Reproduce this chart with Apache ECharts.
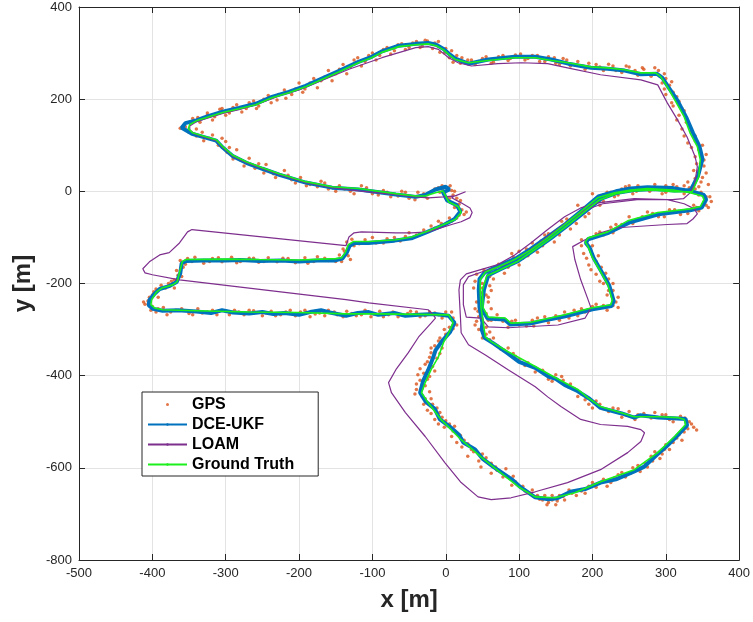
<!DOCTYPE html>
<html>
<head>
<meta charset="utf-8">
<script src="https://cdn.jsdelivr.net/npm/echarts@6/dist/echarts.min.js"></script>
<style>
  html, body { margin: 0; padding: 0; background: #fff; }
  #chart { width: 753px; height: 622px; }
</style>
</head>
<body>
<div id="chart"></div>
<script>
// axis ticks
var xTicks = [-500, -400, -300, -200, -100, 0, 100, 200, 300, 400];
var yTicks = [-800, -600, -400, -200, 0, 200, 400];

// ground truth trajectory [x, y] in metres
var groundTruth = [
  [-3,-1],[4,-23],[17,-33],[21,-46],[13,-61],[-3,-72],[-24,-86],[-47,-99],[-68,-105],[-105,-109],[-126,-109],[-133,-116],
  [-137,-133],[-142,-144],[-150,-146],[-200,-149],[-254,-148],[-300,-147],[-354,-148],[-359,-152],[-363,-176],[-366,-196],
  [-372,-203],[-386,-209],[-394,-218],[-401,-235],[-402,-246],[-397,-253],[-386,-257],[-340,-259],[-268,-262],[-200,-263],
  [-136,-266],[-92,-266],[-37,-267],[4,-268],[10,-285],[4,-307],[-3,-328],[-10,-359],[-20,-387],[-28,-415],[-33,-437],
  [-24,-459],[-6,-496],[21,-539],[48,-576],[75,-611],[99,-641],[122,-663],[149,-665],[176,-654],[211,-630],[257,-604],
  [289,-567],[312,-532],[327,-506],[325,-495],[316,-491],[293,-489],[257,-489],[238,-480],[211,-467],[194,-448],[180,-430],
  [149,-404],[122,-380],[85,-348],[62,-326],[54,-316],[51,-285],[48,-251],[47,-214],[47,-192],[54,-175],[71,-164],[94,-148],
  [116,-127],[139,-101],[162,-72],[184,-44],[207,-14],[230,-3],[252,3],[275,6],[310,3],[333,-3],[350,-10],[352,-18],[347,-33],
  [333,-38],[289,-46],[248,-64],[221,-88],[194,-101],[190,-110],[194,-120],[200,-144],[211,-174],[221,-203],[227,-236],
  [225,-246],[198,-253],[162,-268],[116,-284],[89,-286],[81,-275],[58,-273],[51,-253],[50,-214],[56,-183],[74,-170],[97,-153],
  [119,-129],[142,-103],[165,-75],[187,-47],[210,-18],[232,-5],[255,1],[282,3],[311,-1],[336,-1],[345,32],[347,69],[343,97],
  [333,127],[325,162],[312,199],[302,227],[293,249],[286,257],[266,257],[244,264],[221,268],[198,270],[167,279],[144,284],
  [122,290],[94,290],[58,284],[31,279],[13,286],[4,297],[-3,307],[-13,316],[-24,320],[-41,318],[-64,314],[-88,301],[-101,290],
  [-119,279],[-146,259],[-191,227],[-214,214],[-237,203],[-259,188],[-282,179],[-304,171],[-326,160],[-340,153],[-349,145],
  [-351,136],[-345,127],[-326,118],[-313,112],[-304,97],[-291,79],[-272,64],[-250,51],[-227,38],[-191,21],[-155,10],[-119,6],
  [-68,-5],[-41,-10],[-28,-10],[-14,-3],[-3,1]
];

// DCE-UKF estimate
var dceUkf = [
  [-5,2],[2,-20],[15,-30],[20,-44],[12,-60],[-4,-74],[-25,-88],[-47,-102],[-70,-107],[-90,-110],[-105,-112],[-124,-112],
  [-131,-118],[-135,-133],[-141,-146],[-152,-150],[-175,-150],[-200,-152],[-225,-150],[-254,-151],[-280,-149],[-300,-150],
  [-330,-150],[-354,-151],[-360,-156],[-362,-178],[-367,-197],[-376,-205],[-390,-212],[-397,-222],[-404,-236],[-405,-247],
  [-399,-255],[-386,-259],[-365,-258],[-340,-261],[-320,-264],[-305,-258],[-290,-263],[-268,-265],[-250,-262],[-235,-266],
  [-220,-264],[-200,-268],[-185,-262],[-170,-258],[-158,-263],[-136,-270],[-120,-264],[-105,-262],[-92,-268],[-70,-264],
  [-55,-270],[-37,-268],[-15,-266],[4,-270],[12,-285],[6,-305],[-5,-325],[-14,-345],[-17,-360],[-24,-388],[-31,-412],
  [-35,-437],[-27,-457],[-15,-472],[-8,-495],[5,-510],[18,-528],[24,-545],[40,-560],[50,-580],[65,-598],[78,-612],[90,-625],
  [102,-642],[122,-664],[140,-668],[152,-666],[170,-652],[190,-646],[211,-632],[232,-625],[257,-608],[270,-598],[289,-570],
  [300,-555],[314,-533],[329,-508],[327,-494],[316,-493],[290,-491],[265,-486],[257,-491],[240,-482],[211,-470],[196,-450],
  [178,-432],[162,-420],[150,-407],[140,-402],[122,-383],[100,-370],[85,-352],[65,-330],[53,-318],[49,-300],[50,-285],
  [46,-252],[45,-214],[46,-190],[53,-176],[71,-162],[95,-146],[116,-125],[139,-99],[164,-70],[186,-41],[208,-11],[232,0],
  [252,6],[275,9],[310,7],[335,0],[352,-8],[355,-18],[349,-35],[333,-41],[290,-50],[250,-68],[222,-90],[194,-104],[191,-112],
  [196,-122],[202,-146],[213,-176],[223,-205],[229,-238],[226,-249],[200,-256],[163,-271],[135,-280],[115,-287],[88,-289],
  [80,-278],[57,-276],[49,-254],[52,-214],[58,-182],[76,-168],[99,-151],[121,-127],[144,-101],[167,-73],[189,-45],[212,-16],
  [234,-3],[257,3],[284,5],[312,2],[334,3],[338,15],[344,34],[350,70],[346,97],[337,127],[328,160],[316,197],[304,225],
  [295,247],[288,255],[266,254],[244,262],[221,266],[198,268],[167,277],[144,286],[122,292],[94,292],[58,286],[31,277],
  [13,288],[4,299],[-3,309],[-13,318],[-24,322],[-41,320],[-64,316],[-88,303],[-101,292],[-119,281],[-146,261],[-191,229],
  [-214,216],[-237,205],[-259,190],[-282,181],[-304,173],[-326,162],[-340,154],[-355,148],[-360,138],[-346,125],[-326,116],
  [-313,110],[-304,95],[-291,77],[-272,62],[-250,49],[-227,36],[-191,19],[-155,8],[-119,4],[-68,-7],[-41,-12],[-28,-8],
  [-14,4],[0,10],[5,4],[-3,-2]
];

// LOAM odometry
var loam = [
  [27,-1],[12,-10],[8,-14],[21,-25],[33,-36],[36,-46],[33,-57],[21,-66],[8,-72],[-10,-81],[-24,-88],[-47,-90],[-68,-90],
  [-115,-88],[-125,-90],[-132,-99],[-136,-118],[-346,-83],[-352,-88],[-363,-112],[-377,-133],[-390,-138],[-404,-153],
  [-413,-168],[-410,-177],[-400,-181],[-363,-192],[-136,-235],[-105,-242],[-24,-257],[-17,-268],[-14,-275],[-20,-286],
  [-37,-316],[-51,-350],[-68,-387],[-78,-415],[-74,-437],[-55,-480],[-28,-532],[-1,-589],[21,-632],[44,-663],[62,-669],
  [89,-665],[122,-652],[166,-632],[211,-604],[248,-567],[266,-543],[271,-524],[266,-517],[248,-510],[211,-506],[184,-495],
  [157,-467],[139,-446],[122,-424],[85,-387],[54,-355],[31,-333],[21,-307],[20,-273],[18,-214],[20,-192],[28,-179],[71,-159],
  [94,-138],[116,-112],[139,-83],[162,-55],[184,-36],[207,-25],[257,-16],[302,-18],[325,-27],[339,-38],[343,-49],[337,-60],
  [329,-70],[302,-72],[234,-79],[211,-90],[190,-105],[173,-120],[176,-148],[184,-192],[194,-235],[198,-253],[190,-275],
  [153,-290],[85,-296],[58,-294],[48,-275],[28,-273],[24,-246],[24,-203],[31,-185],[51,-174],[78,-161],[101,-142],[123,-118],
  [146,-90],[169,-62],[191,-40],[214,-27],[261,-18],[309,-18],[324,-16],[332,-5],[339,14],[343,53],[340,75],[329,118],
  [316,155],[302,192],[289,231],[266,242],[211,253],[166,268],[139,277],[103,279],[71,277],[35,272],[17,279],[4,290],
  [-10,308],[-24,314],[-41,312],[-87,290],[-132,265],[-200,220],[-223,210],[-237,201],[-259,188],[-282,177],[-304,169],
  [-326,158],[-340,151],[-349,142],[-349,134],[-343,125],[-326,116],[-313,110],[-304,95],[-291,77],[-272,62],[-250,49],
  [-227,36],[-191,19],[-155,8],[-119,1],[-68,-7],[-41,-12],[-24,-14],[-3,-12],[13,-10],[27,-1]
];

// GPS fixes
var gps = [
  [-5,5],[3,8],[8,2],[-8,-2],[10,-8],[5,-15],[18,-28],[22,-40],[25,-50],[15,-58],[8,-65],[-6,-70],[-15,-80],[-30,-84],
  [-40,-95],[-55,-98],[-62,-108],[-80,-103],[-95,-112],[-110,-105],[-118,-114],[-128,-104],[-135,-110],[-140,-125],[-133,-140],
  [-145,-138],[-150,-152],[-165,-145],[-180,-152],[-192,-144],[-205,-155],[-215,-146],[-230,-153],[-242,-144],[-255,-154],
  [-268,-145],[-280,-152],[-292,-143],[-305,-153],[-318,-146],[-330,-156],[-342,-143],[-352,-146],[-362,-150],[-358,-165],
  [-367,-172],[-360,-185],[-370,-192],[-378,-200],[-370,-210],[-388,-204],[-395,-212],[-400,-225],[-392,-230],[-406,-238],
  [-410,-245],[-400,-250],[-395,-262],[-385,-252],[-375,-262],[-360,-255],[-350,-265],[-338,-255],[-325,-262],[-312,-268],
  [-300,-260],[-288,-258],[-275,-268],[-262,-259],[-250,-270],[-238,-260],[-225,-268],[-212,-258],[-198,-262],[-185,-272],
  [-172,-264],[-160,-258],[-148,-268],[-135,-260],[-122,-270],[-110,-258],[-98,-266],[-85,-272],[-72,-262],[-60,-268],
  [-48,-260],[-35,-272],[-22,-262],[-10,-268],[0,-262],[10,-275],[15,-290],[5,-295],[0,-310],[-8,-318],[-15,-335],[-5,-340],
  [-20,-350],[-12,-362],[-25,-370],[-18,-380],[-30,-395],[-22,-402],[-35,-410],[-28,-422],[-40,-430],[-32,-445],[-20,-450],
  [-30,-462],[-12,-470],[-20,-482],[-5,-490],[-10,-505],[5,-505],[10,-520],[20,-530],[15,-545],[30,-548],[38,-565],[50,-570],
  [45,-585],[62,-590],[70,-605],[82,-602],[85,-620],[95,-630],[105,-640],[115,-655],[125,-660],[132,-670],[140,-675],
  [145,-660],[152,-672],[160,-662],[168,-648],[178,-660],[185,-650],[195,-640],[205,-642],[215,-625],[225,-632],[235,-615],
  [245,-620],[255,-600],[265,-608],[272,-590],[282,-585],[285,-565],[295,-570],[300,-550],[310,-545],[318,-528],[322,-540],
  [330,-515],[338,-512],[332,-500],[320,-488],[305,-495],[295,-485],[280,-492],[270,-482],[258,-495],[245,-485],[235,-472],
  [222,-478],[210,-462],[200,-470],[190,-452],[185,-440],[175,-428],[170,-418],[160,-410],[150,-398],[140,-408],[132,-388],
  [122,-392],[112,-372],[100,-365],[92,-352],[80,-345],[70,-335],[60,-322],[55,-310],[45,-300],[55,-295],[42,-282],[55,-265],
  [40,-255],[45,-240],[55,-225],[38,-210],[50,-200],[40,-195],[60,-185],[52,-170],[68,-172],[78,-158],[85,-165],[92,-142],
  [105,-145],[110,-125],[125,-132],[130,-108],[148,-110],[150,-88],[170,-82],[170,-62],[190,-55],[195,-32],[210,-30],[215,-8],
  [230,-12],[240,5],[255,-5],[262,12],[278,0],[290,8],[300,-2],[315,10],[325,-5],[340,5],[348,-2],[355,-12],[362,-22],
  [358,-35],[345,-42],[338,-30],[320,-50],[305,-40],[290,-55],[275,-45],[262,-60],[250,-55],[240,-72],[225,-78],[215,-95],
  [205,-92],[192,-112],[185,-105],[198,-130],[188,-135],[205,-152],[195,-160],[212,-165],[205,-180],[222,-190],[215,-200],
  [228,-215],[220,-225],[232,-240],[235,-252],[220,-258],[205,-245],[190,-262],[175,-258],[168,-275],[150,-270],[140,-285],
  [125,-275],[110,-292],[95,-280],[85,-295],[70,-268],[62,-280],[45,-272],[44,-260],[58,-240],[60,-205],[65,-190],[80,-178],
  [100,-160],[105,-138],[128,-118],[135,-95],[158,-65],[175,-58],[180,-30],[200,-5],[220,-2],[245,10],[270,8],[300,12],
  [325,12],[330,20],[340,28],[350,30],[338,45],[352,55],[342,60],[355,80],[345,90],[340,110],[330,105],[335,130],[322,135],
  [328,150],[318,165],[322,180],[310,185],[315,205],[300,210],[305,230],[295,235],[298,255],[290,262],[280,250],[270,265],
  [262,252],[250,270],[240,258],[228,272],[215,262],[205,275],[190,265],[180,282],[170,272],[160,288],[150,278],[140,292],
  [128,282],[118,295],[108,285],[95,296],[85,284],[72,292],[65,280],[50,288],[40,275],[30,285],[20,278],[15,295],[5,290],
  [0,310],[-8,302],[-15,322],[-25,326],[-32,315],[-40,325],[-50,312],[-60,320],[-70,305],[-80,312],[-90,295],[-100,300],
  [-110,282],[-120,290],[-130,270],[-140,275],[-150,255],[-160,262],[-170,240],[-180,245],[-192,222],[-200,235],[-210,210],
  [-220,220],[-230,198],[-242,208],[-255,185],[-262,196],[-272,180],[-285,188],[-295,170],[-305,180],[-315,162],[-325,170],
  [-335,150],[-345,158],[-355,140],[-362,137],[-350,128],[-340,120],[-330,110],[-318,122],[-310,100],[-300,108],[-298,85],
  [-285,90],[-280,68],[-268,72],[-260,50],[-245,58],[-235,38],[-220,45],[-210,25],[-198,30],[-185,15],[-170,22],[-160,5],
  [-145,12],[-130,0],[-115,12],[-100,-5],[-85,2],[-75,-12],[-60,0],[-50,-15],[-38,-2],[-25,-15],[-15,5],[-5,12],
  [-348,150],[-338,160],[-325,165],[-318,155],[-308,178],[-300,165],[-290,182],[-278,172],[-268,192],[-258,180],[-248,200],
  [-238,192],[-228,210],[-218,202],[-205,222],[-195,215],[-185,235],[-175,225],[-165,248],[-155,240],[-145,265],[-135,255],
  [-125,285],[-115,272],[-105,295],[-95,285],[-85,308],[-75,298],[-65,318],[-55,308],[-45,322],[-35,312],[-28,328],[-18,310],
  [-10,325],[-2,300],[8,305],[10,280],[22,290],[35,285],[45,282],[55,292],[62,278],[78,295],[88,288],[102,298],[112,288],
  [125,295],[135,282],[148,290],[155,275],[165,285],[175,275],[185,272],[195,278],[210,270],[222,276],[232,262],[246,272],
  [258,262],[268,268],[276,255],[285,268],[292,250],[300,245],[308,238],[298,222],[310,215],[318,195],[308,192],[325,175],
  [315,155],[332,145],[325,120],[340,120],[335,95],[350,100],[340,75],[352,68],[345,45],[355,40],[348,20],[358,15],[345,10],
  [2,5],[-2,-5],[6,12],[12,0],[-10,8],[15,-15],[20,-20],[12,-35],[28,-45],[18,-52],[5,-58],[-10,-65],[-20,-75],[-35,-92],
  [-50,-90],[-70,-100],[-85,-112],[-100,-100],[-125,-118],[-138,-130],[-130,-148],[-142,-152],
  [-340,135],[-332,128],[-322,115],[-305,115],[-295,95],[-290,70],[-275,55],[-255,60],[-248,40],[-232,30],[-215,35],[-205,18],
  [-190,12],[-175,10],[-165,18],[-150,0],[-138,5],[-125,-5],[-108,8],[-92,-8],[-80,-2],[-65,-10],[-55,-2],[-42,-18],[-30,-5],
  [-160,-150],[-175,-142],[-188,-156],[-222,-145],[-248,-152],[-262,-145],[-285,-155],[-310,-144],[-322,-152],[-346,-152],
  [-355,-158],[-365,-182],[-374,-195],[-382,-210],[-398,-218],[-404,-230],[-412,-240],[-402,-258],
  [-392,-255],[-380,-268],[-368,-258],[-345,-268],[-332,-264],[-318,-258],[-295,-268],[-282,-262],[-268,-258],[-245,-264],
  [-232,-270],[-218,-262],[-205,-270],[-192,-258],[-178,-266],[-165,-270],[-152,-262],[-140,-272],[-128,-265],[-115,-268],
  [-102,-272],[-90,-260],[-78,-268],[-65,-272],[-52,-265],[-40,-262],[-28,-270],[-15,-264],[-5,-275],[8,-262],
  [10,-298],[-2,-300],[-10,-325],[-20,-340],[-8,-352],[-22,-360],[-28,-375],[-35,-385],[-15,-390],[-38,-398],[-25,-408],
  [-40,-418],[-32,-428],[-22,-435],[-42,-440],[-28,-450],[-18,-462],[-25,-475],[-8,-480],[-15,-495],[0,-498],[-2,-512],
  [12,-510],[8,-532],[25,-540],[22,-555],[35,-560],[30,-575],[55,-578],[48,-598],[68,-598],[62,-612],[78,-620],[92,-618],
  [90,-638],[108,-650],[118,-648],[128,-668],[135,-660],[138,-680],[145,-670],[150,-680],[155,-660],[162,-670],[172,-655],
  [190,-655],[200,-632],[220,-640],[230,-622],[240,-610],[252,-612],[262,-595],[275,-598],[280,-575],[292,-580],[298,-560],
  [305,-560],[315,-535],[325,-522],[335,-505],[342,-518],[326,-492],[310,-500],[300,-485],[285,-480],[262,-485],[250,-478],
  [240,-490],[228,-470],[215,-472],[205,-455],[195,-462],[180,-445],[168,-425],[158,-402],[145,-412],[135,-395],[118,-380],
  [108,-378],[95,-358],[85,-340],[75,-342],[65,-318],[50,-318],[60,-305],[40,-290],[58,-280],[48,-268],[42,-240],[58,-230],
  [50,-210],[42,-180],[60,-175],
  [72,-158],[88,-150],[90,-135],[100,-130],[112,-140],[118,-112],[132,-118],[140,-92],[155,-95],[158,-78],[165,-60],[178,-70],
  [185,-48],[195,-48],[200,-25],[215,-22],[225,-2],[235,-8],[250,12],[260,0],[285,15],[295,-5],[310,15],[320,2],[332,8],
  [345,-8],[352,-25],[360,-12],[355,-30],[342,-35],[330,-48],[312,-40],[298,-55],[282,-48],[268,-55],[255,-70],[232,-72],
  [228,-90],[210,-88],[200,-100],[185,-118],[200,-118],[192,-145],[208,-140],[198,-170],[218,-178],[210,-195],[228,-200],
  [222,-215],[235,-230],[228,-248],[215,-248],[200,-250],[185,-255],[180,-270],[162,-262],[155,-280],[135,-272],[118,-280],
  [120,-292],[100,-290],[90,-282],[78,-282],[68,-278],[52,-262],[62,-255],[48,-220],[62,-215],[45,-205]
];

var axisColor = '#262626';
var font = 'Liberation Sans, Arial, Helvetica, sans-serif';

var chart = echarts.init(document.getElementById('chart'));

// top / right box axes, ticks only
function frameAxis(pos, ticks) {
  return {
    type: 'value',
    position: pos,
    min: ticks[0],
    max: ticks[ticks.length - 1],
    interval: ticks[1] - ticks[0],
    axisLine: { show: true, onZero: false, lineStyle: { color: axisColor, width: 1 } },
    axisTick: { show: true, inside: true, length: 6, lineStyle: { color: axisColor } },
    axisLabel: { show: false },
    splitLine: { show: false }
  };
}

var option = {
  animation: false,
  backgroundColor: '#fff',
  grid: { left: 79, right: 11, top: 7, bottom: 62, containLabel: false },
  legend: {
    orient: 'vertical',
    left: 142,
    top: 392,
    data: ['GPS', 'DCE-UKF', 'LOAM', 'Ground Truth'],
    itemWidth: 39,
    itemHeight: 3,
    itemGap: 3,
    padding: [4, 24, 3, 5],
    backgroundColor: '#fff',
    borderColor: axisColor,
    borderWidth: 1,
    borderRadius: 0,
    textStyle: { fontFamily: font, fontSize: 16, fontWeight: 'bold', color: '#000', lineHeight: 17 }
  },
  xAxis: [
    {
      type: 'value',
      min: xTicks[0],
      max: xTicks[xTicks.length - 1],
      interval: 100,
      name: 'x [m]',
      nameLocation: 'middle',
      nameGap: 28,
      nameTextStyle: { fontFamily: font, fontSize: 24, fontWeight: 'bold', color: axisColor },
      axisLine: { show: true, onZero: false, lineStyle: { color: axisColor, width: 1 } },
      axisTick: { show: true, inside: true, length: 6, lineStyle: { color: axisColor } },
      axisLabel: { fontFamily: font, fontSize: 13, color: axisColor, margin: 7 },
      splitLine: { show: true, lineStyle: { color: '#e3e3e3', width: 1 } }
    },
    frameAxis('top', xTicks)
  ],
  yAxis: [
    {
      type: 'value',
      min: yTicks[0],
      max: yTicks[yTicks.length - 1],
      interval: 200,
      name: 'y [m]',
      nameLocation: 'middle',
      nameGap: 42,
      nameTextStyle: { fontFamily: font, fontSize: 24, fontWeight: 'bold', color: axisColor },
      axisLine: { show: true, onZero: false, lineStyle: { color: axisColor, width: 1 } },
      axisTick: { show: true, inside: true, length: 6, lineStyle: { color: axisColor } },
      axisLabel: { fontFamily: font, fontSize: 13, color: axisColor, margin: 7 },
      splitLine: { show: true, lineStyle: { color: '#e3e3e3', width: 1 } }
    },
    frameAxis('right', yTicks)
  ],
  series: [
    {
      name: 'GPS',
      type: 'scatter',
      data: gps,
      symbol: 'circle',
      symbolSize: 3.5,
      itemStyle: { color: '#D95319' },
      z: 1
    },
    {
      name: 'DCE-UKF',
      type: 'line',
      data: dceUkf,
      showSymbol: false,
      symbol: 'none',
      itemStyle: { color: '#0072BD' },
      lineStyle: { color: '#0072BD', width: 4 },
      z: 2
    },
    {
      name: 'LOAM',
      type: 'line',
      data: loam,
      showSymbol: false,
      symbol: 'none',
      itemStyle: { color: '#7E2F8E' },
      lineStyle: { color: '#7E2F8E', width: 1.2 },
      z: 3
    },
    {
      name: 'Ground Truth',
      type: 'line',
      data: groundTruth,
      showSymbol: false,
      symbol: 'none',
      itemStyle: { color: '#1CF01C' },
      lineStyle: { color: '#1CF01C', width: 1.6 },
      z: 4
    }
  ]
};

chart.setOption(option);
</script>
</body>
</html>
